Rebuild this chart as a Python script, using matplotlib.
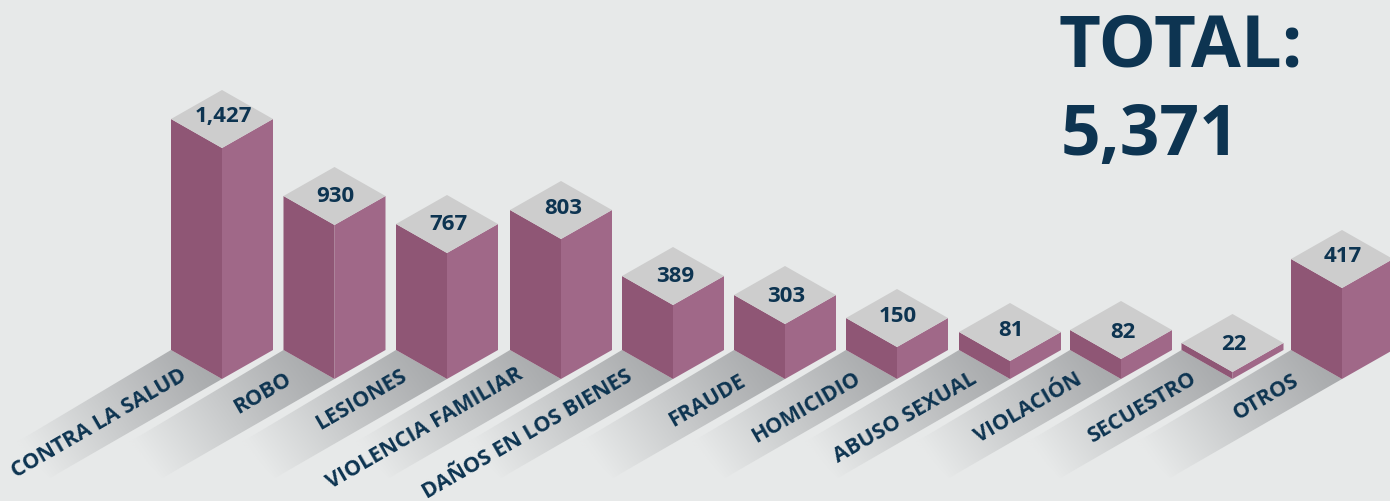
import numpy as np
import matplotlib
matplotlib.use('Agg')
import matplotlib.pyplot as plt
from matplotlib.patches import Polygon

# --- Data ---
categories = ['CONTRA LA SALUD', 'ROBO', 'LESIONES', 'VIOLENCIA FAMILIAR', 'DAÑOS EN LOS BIENES',
              'FRAUDE', 'HOMICIDIO', 'ABUSO SEXUAL', 'VIOLACIÓN', 'SECUESTRO', 'OTROS']
value_labels = ['1,427', '930', '767', '803', '389', '303', '150', '81', '82', '22', '417']
# drawn bar heights (the original is not to scale)
bar_heights = [231, 154, 126, 140, 74, 55, 32, 18, 20, 7, 91]
total_label = ['TOTAL:', '5,371']

# --- Layout (pixels, y down) ---
bar_left = [171, 283.5, 396, 510, 622, 734, 846, 959, 1070, 1181.5, 1291]
label_x = [99, 263, 361, 425, 528, 707, 806, 905, 1028, 1142, 1266]
label_y = [424, 394, 400, 429, 435, 401, 408, 418, 408, 408, 397]
value_x = [223, 335, 449, 563, 675, 786, 898, 1011, 1123, 1234, 1343]
value_y = [116, 196, 225, 208, 276, 296, 317, 331, 332, 345, 257]
half_w = 51
half_h = 29
base_y = 379

BG = np.array([231, 233, 233]) / 255
NEAR = np.array([168, 170, 172]) / 255
NAVY = '#0d3451'

plt.rcParams['font.family'] = ['Open Sans', 'DejaVu Sans']

fig = plt.figure(figsize=(13.9, 5.01), dpi=100, facecolor=BG)
ax = fig.add_axes([0, 0, 1, 1])
ax.set_facecolor(BG)

# ground strips, gradient clipped to a parallelogram
for left in bar_left:
    c = left + half_w
    poly = [(left, base_y - half_h), (c, base_y), (c - 172, base_y + 99), (left - 154, base_y - half_h + 92)]
    xs = np.arange(int(left - 160), int(c + 2))
    ys = np.arange(base_y - half_h - 2, base_y + 102)
    X, Y = np.meshgrid(xs, ys)
    # distance along the strip from the corner under the bar
    t = ((c - X) * 0.82 + (Y - base_y) * 0.57) / 200
    t = np.clip(t, 0, 1)[..., None]
    img = NEAR + (BG - NEAR) * t ** 1.1
    im = ax.imshow(img, extent=(xs[0], xs[-1], ys[-1], ys[0]), aspect='auto', zorder=1, interpolation='bilinear')
    im.set_clip_path(Polygon(poly, transform=ax.transData))

# bars
for left, h in zip(bar_left, bar_heights):
    c = left + half_w
    r = left + 2 * half_w
    side_base = base_y - half_h
    ax.add_patch(Polygon([(left, side_base), (c, base_y), (c, base_y - h), (left, side_base - h)],
                         facecolor='#8f5675', edgecolor='none', zorder=2))
    ax.add_patch(Polygon([(c, base_y), (r, side_base), (r, side_base - h), (c, base_y - h)],
                         facecolor='#a06888', edgecolor='none', zorder=2))
    top_y = side_base - h
    ax.add_patch(Polygon([(left, top_y), (c, top_y + half_h), (r, top_y), (c, top_y - half_h)],
                         facecolor='#cdcdcd', edgecolor='none', zorder=3))

for lab, x, y in zip(value_labels, value_x, value_y):
    ax.text(x, y, lab, ha='center', va='center', fontsize=16, fontweight='bold', color=NAVY, zorder=4)

for name, x, y in zip(categories, label_x, label_y):
    ax.text(x, y, name, rotation=30, rotation_mode='anchor', ha='center', va='center',
            fontsize=15.5, fontweight='bold', color=NAVY, zorder=4)

ax.text(1059, 66, total_label[0], fontsize=52, fontweight='bold', color=NAVY, va='baseline', ha='left')
ax.text(1061, 155, total_label[1], fontsize=50, fontweight='bold', color=NAVY, va='baseline', ha='left')

ax.set_xlim(0, 1390)
ax.set_ylim(501, 0)
ax.axis('off')

fig.savefig('out.png', dpi=100, facecolor=BG)
